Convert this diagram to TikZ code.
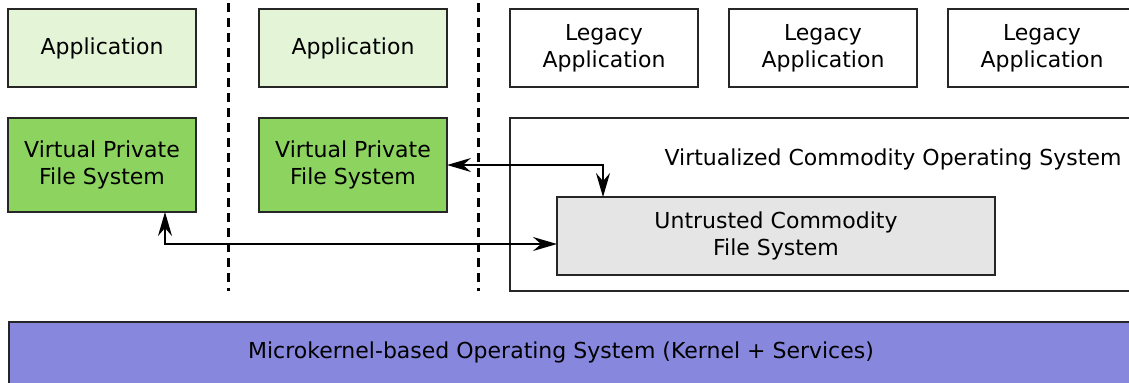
\documentclass[tikz,border=0pt]{standalone}
\usepackage{fontspec}
\setmainfont{DejaVu Sans}
\usetikzlibrary{arrows.meta, positioning, calc}
\definecolor{appgreen}{HTML}{E3F4D7}
\definecolor{fsgreen}{HTML}{8DD35F}
\definecolor{fsgrey}{HTML}{E5E5E5}
\definecolor{kernelblue}{HTML}{8787DE}

\begin{document}
\begin{tikzpicture}[x=0.5pt, y=-0.5pt,
    font=\fontsize{11pt}{13.5pt}\selectfont,
    box/.style={draw=black!85, line width=1pt, inner sep=0pt, outer sep=0pt, align=center,
      anchor=north west, minimum height=39pt},
    appbox/.style={box, fill=appgreen, minimum width=94pt},
    legbox/.style={box, fill=white, minimum width=94pt},
    fsbox/.style={box, fill=fsgreen, minimum width=94pt, minimum height=47pt},
    sepline/.style={line width=1.5pt, dash pattern=on 4.5pt off 3pt},
    link/.style={line width=0.75pt, {Stealth[length=12pt,width=7pt,inset=4pt]}-{Stealth[length=12pt,width=7pt,inset=4pt]}}]
  \useasboundingbox (0,0) rectangle (1129,382);

  % separated applications
  \node[appbox] (app1) at (8,9) {Application};
  \node[appbox] (app2) at (259,9) {Application};
  \node[fsbox] (vpfs1) at (8,118) {Virtual Private\\File System};
  \node[fsbox] (vpfs2) at (259,118) {Virtual Private\\File System};

  % legacy side
  \node[legbox] (leg1) at (510,9) {Legacy\\Application};
  \node[legbox, anchor=west, right=15.5pt of leg1] (leg2) {Legacy\\Application};
  \node[legbox, anchor=west, right=15.5pt of leg2] (leg3) {Legacy\\Application};
  \node[box, fill=white, minimum width=320pt, minimum height=86.5pt] (vcos) at (510,118) {};
  \node (vcoslbl) at (893,159) {Virtualized Commodity Operating System};
  \node[box, fill=fsgrey, minimum width=219pt] (ucfs) at (557,197) {Untrusted Commodity\\File System};

  % isolation boundaries
  \draw[sepline] (228,3) -- (228,291);
  \draw[sepline] (478,3) -- (478,291);

  % microkernel
  \node[box, fill=kernelblue, minimum width=566pt, minimum height=31pt] (mk) at (9,322) {};
  \node (mklbl) at ([xshift=-7pt,yshift=0.5pt]mk.center) {Microkernel-based Operating System (Kernel + Services)};

  \draw[link] ([xshift=31.5pt]vpfs1.south) |- ([yshift=-4pt]ucfs.west);
  \draw[link] (vpfs2.east) -| ([xshift=23pt]ucfs.north west);
\end{tikzpicture}
\end{document}
